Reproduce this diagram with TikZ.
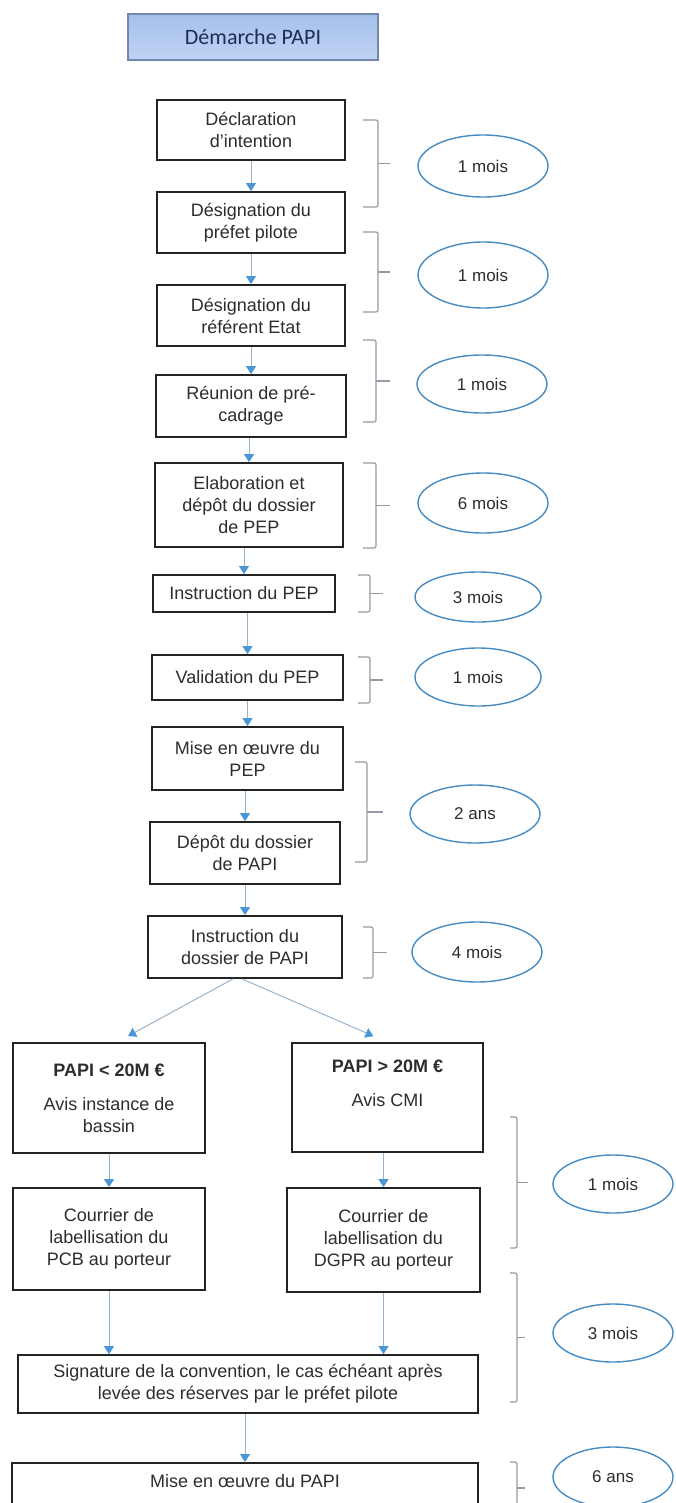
\documentclass[tikz,border=0pt]{standalone}
\usepackage{fontspec}
\setmainfont{Liberation Sans}
\newfontfamily\titlefont{Carlito}
\usetikzlibrary{shapes.geometric,arrows.meta,calc}
\definecolor{boxdraw}{RGB}{35,35,35}
\definecolor{txt}{RGB}{45,45,45}
\definecolor{arrowline}{RGB}{150,180,205}
\definecolor{arrowtip}{RGB}{75,150,215}
\definecolor{ellblue}{RGB}{70,140,195}
\definecolor{bracketgray}{RGB}{150,155,165}
\definecolor{titletop}{RGB}{165,192,236}
\definecolor{titlebot}{RGB}{192,211,243}
\definecolor{titledraw}{RGB}{115,135,170}
\definecolor{titletext}{RGB}{30,45,80}
\newcommand{\durbracket}[5]{%
  \draw[bracket] (#1,#2) -- (#3,#2) -- (#3,#4) -- (#1,#4);
  \draw[bracket] (#3,{(#2+#4)/2}) -- (#5,{(#2+#4)/2});}
\begin{document}
\begin{tikzpicture}[x=0.5pt,y=-0.5pt,
  mainbox/.style={draw=boxdraw, line width=0.9pt, fill=white, align=center,
    text=txt, font=\fontsize{9}{11}\selectfont, inner sep=0pt},
  dur/.style={ellipse, draw=ellblue, line width=0.7pt, inner sep=0pt,
    text=txt, font=\fontsize{8.5}{10}\selectfont},
  flow/.style={draw=arrowline, line width=0.5pt,
    -{Triangle[width=5pt,length=4pt,color=arrowtip,fill=arrowtip]}},
  bracket/.style={draw=bracketgray, line width=0.6pt, rounded corners=1pt}]
\clip (0,0) rectangle (675,1503);
\fill[white] (0,0) rectangle (675,1503);

% title
\node[draw=titledraw, line width=0.6pt, top color=titletop, bottom color=titlebot,
  minimum width=125pt, minimum height=23pt, inner sep=0pt,
  text=titletext, font=\titlefont\fontsize{11}{13}\selectfont] (title) at (253,37) {Démarche PAPI};

% main column
\node[mainbox, minimum width=94pt, minimum height=30pt] (b1) at (251,130) {Déclaration\\d'intention};
\node[mainbox, minimum width=94pt, minimum height=30.5pt] (b2) at (251,222.5) {Désignation du\\préfet pilote};
\node[mainbox, minimum width=94pt, minimum height=30.5pt] (b3) at (251,315.5) {Désignation du\\référent Etat};
\node[mainbox, minimum width=95pt, minimum height=31pt] (b4) at (251,406) {Réunion de pré-\\cadrage};
\node[mainbox, minimum width=94pt, minimum height=42pt] (b5) at (249,505) {Elaboration et\\dépôt du dossier\\de PEP};
\node[mainbox, minimum width=91pt, minimum height=18.5pt] (b6) at (244,593.5) {Instruction du PEP};
\node[mainbox, minimum width=95.5pt, minimum height=22.5pt] (b7) at (247.5,677.5) {Validation du PEP};
\node[mainbox, minimum width=95.5pt, minimum height=31.5pt] (b8) at (247.5,758.5) {Mise en œuvre du\\PEP};
\node[mainbox, minimum width=95pt, minimum height=31pt] (b9) at (245,853) {Dépôt du dossier\\de PAPI};
\node[mainbox, minimum width=97pt, minimum height=31pt] (b10) at (245,947) {Instruction du\\dossier de PAPI};

% branches
\node[mainbox, minimum width=96pt, minimum height=55pt] (l1) at (109,1098) {\textbf{PAPI < 20M €}\\[6pt]Avis instance de\\bassin};
\node[mainbox, minimum width=95.5pt, minimum height=54.5pt] (r1) at (387.5,1097.5) {\textbf{PAPI > 20M €}\\[6pt]Avis CMI\\\strut};
\node[mainbox, minimum width=96pt, minimum height=51pt] (l2) at (109,1239) {Courrier de\\labellisation du\\PCB au porteur};
\node[mainbox, minimum width=96.5pt, minimum height=52pt] (r2) at (383.5,1240) {Courrier de\\labellisation du\\DGPR au porteur};
\node[mainbox, minimum width=230pt, minimum height=29pt] (sig) at (248,1384) {Signature de la convention, le cas échéant après\\levée des réserves par le préfet pilote};
\node[mainbox, anchor=north, minimum width=233pt, inner ysep=6pt, text depth=40pt] (mpapi) at (245,1462) {Mise en œuvre du PAPI};

% connectors
\draw[flow] (b2.north |- b1.south) -- (b2.north);
\draw[flow] (b3.north |- b2.south) -- (b3.north);
\draw[flow] (b4.north |- b3.south) -- (b4.north);
\draw[flow] (b5.north |- b4.south) -- (b5.north);
\draw[flow] (b6.north |- b5.south) -- (b6.north);
\draw[flow] (b7.north |- b6.south) -- (b7.north);
\draw[flow] (b8.north |- b7.south) -- (b8.north);
\draw[flow] (b9.north |- b8.south) -- (b9.north);
\draw[flow] (b10.north |- b9.south) -- (b10.north);
\draw[flow] ($(b10.south)+(-12,0)$) -- ($(l1.north)+(19,-6)$);
\draw[flow] ($(b10.south)+(-3,0)$) -- ($(r1.north)+(-14,-6)$);
\draw[flow] (l1.south) -- (l2.north);
\draw[flow] (r2.north |- r1.south) -- (r2.north);
\draw[flow] (l2.south) -- (l2.south |- sig.north);
\draw[flow] (r2.south) -- (r2.south |- sig.north);
\draw[flow] (mpapi.north |- sig.south) -- (mpapi.north);

% brackets
\durbracket{363}{120}{378}{207}{390}
\durbracket{363}{232}{378}{312}{390}
\durbracket{363}{340}{376}{422}{390}
\durbracket{363}{463}{376}{548}{390}
\durbracket{358}{575}{370}{612}{383}
\durbracket{358}{657}{370}{703}{383}
\durbracket{355}{762}{367}{862}{383}
\durbracket{363}{927}{373}{978}{387}
\durbracket{510}{1117}{517}{1248}{528}
\durbracket{510}{1273}{517}{1402}{525}
\durbracket{510}{1462}{517}{1514}{525}

% durations
\node[dur, minimum width=65pt, minimum height=31pt] (e1) at (483,166) {1 mois};
\node[dur, minimum width=65pt, minimum height=33pt] (e2) at (483,275) {1 mois};
\node[dur, minimum width=65pt, minimum height=29pt] (e3) at (482,384) {1 mois};
\node[dur, minimum width=65pt, minimum height=30pt] (e4) at (483,503) {6 mois};
\node[dur, minimum width=63pt, minimum height=25pt] (e5) at (478,597) {3 mois};
\node[dur, minimum width=63pt, minimum height=29pt] (e6) at (478,677) {1 mois};
\node[dur, minimum width=65pt, minimum height=29pt] (e7) at (475,814) {2 ans};
\node[dur, minimum width=65pt, minimum height=30pt] (e8) at (477,952) {4 mois};
\node[dur, minimum width=60pt, minimum height=29pt] (e9) at (613,1184) {1 mois};
\node[dur, minimum width=60pt, minimum height=29pt] (e10) at (613,1333) {3 mois};
\node[dur, minimum width=60pt, minimum height=30pt] (e11) at (613,1477) {6 ans};
\end{tikzpicture}
\end{document}
